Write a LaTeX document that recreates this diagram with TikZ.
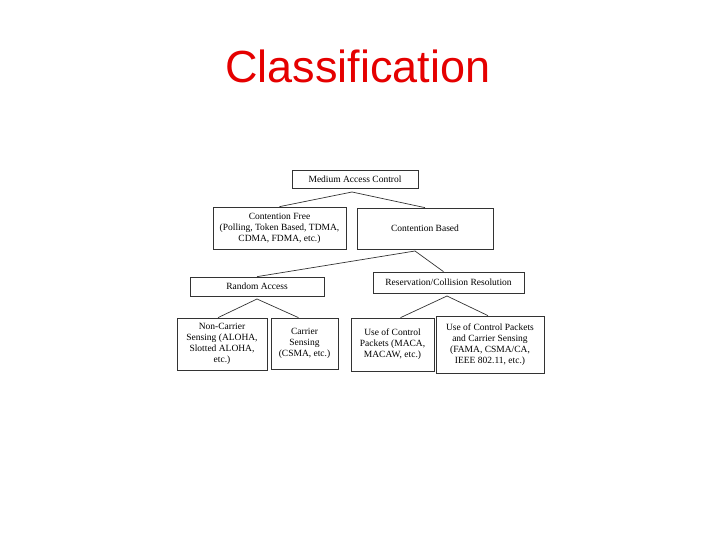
\documentclass[tikz,border=0pt]{standalone}
\usepackage{fontspec}
\setmainfont{Liberation Serif}
\newfontfamily\titlefont{Liberation Sans}
\usepackage{tikz}

\begin{document}
\begin{tikzpicture}[x=1pt,y=1pt,line width=0.7pt]
                \tikzstyle{block} = [draw=black!80, fill=white, rectangle, inner sep=0pt, align=center, font=\fontsize{9.5}{11}\selectfont]
                \useasboundingbox (0,0) rectangle (720,-540);

                % Title
                \node[font=\titlefont\fontsize{45}{50}\selectfont, text=red!90!black, anchor=base] (title) at (358,-83) {Classification};

                % Top level
                \node[block, minimum width=126, minimum height=18] (mac) at (355,-179) {Medium Access Control};

                % Second level
                \node[block, minimum width=133, minimum height=42] (cf) at (279.5,-228) {Contention Free\\(Polling, Token Based, TDMA,\\CDMA, FDMA, etc.)};
                \node[block, minimum width=136, minimum height=41] (cb) at (425,-228.5) {Contention Based};

                % Third level
                \node[block, minimum width=134, minimum height=19] (ra) at (257,-286.5) {Random Access};
                \node[block, minimum width=151, minimum height=21] (rcr) at (448.5,-282.5) {Reservation/Collision Resolution};

                % Leaves
                \node[block, minimum width=90, minimum height=52] (ncs) at (222,-344) {Non-Carrier\\Sensing (ALOHA,\\Slotted ALOHA,\\etc.)};
                \node[block, minimum width=67, minimum height=51] (cs) at (304.5,-343.5) {Carrier\\Sensing\\(CSMA, etc.)};
                \node[block, minimum width=83, minimum height=53] (ucp) at (392.5,-344.5) {Use of Control\\Packets (MACA,\\MACAW, etc.)};
                \node[block, minimum width=108, minimum height=57] (ucpcs) at (490,-344.5) {Use of Control Packets\\and Carrier Sensing\\(FAMA, CSMA/CA,\\IEEE 802.11, etc.)};

                % Split points
                \coordinate (macsplit) at (352,-192);
                \coordinate (cbsplit) at (415,-251);
                \coordinate (rasplit) at (257,-299);
                \coordinate (rcrsplit) at (447,-296);

                % Connectors
                \draw[black!80] (cf.north) -- (macsplit) -- (cb.north);
                \draw[black!80] (ra.north) -- (cbsplit) -- ([xshift=-5]rcr.north);
                \draw[black!80] ([xshift=-4]ncs.north) -- (rasplit) -- ([xshift=-6]cs.north);
                \draw[black!80] ([xshift=8]ucp.north) -- (rcrsplit) -- ([xshift=-2]ucpcs.north);
            \end{tikzpicture}
\end{document}
